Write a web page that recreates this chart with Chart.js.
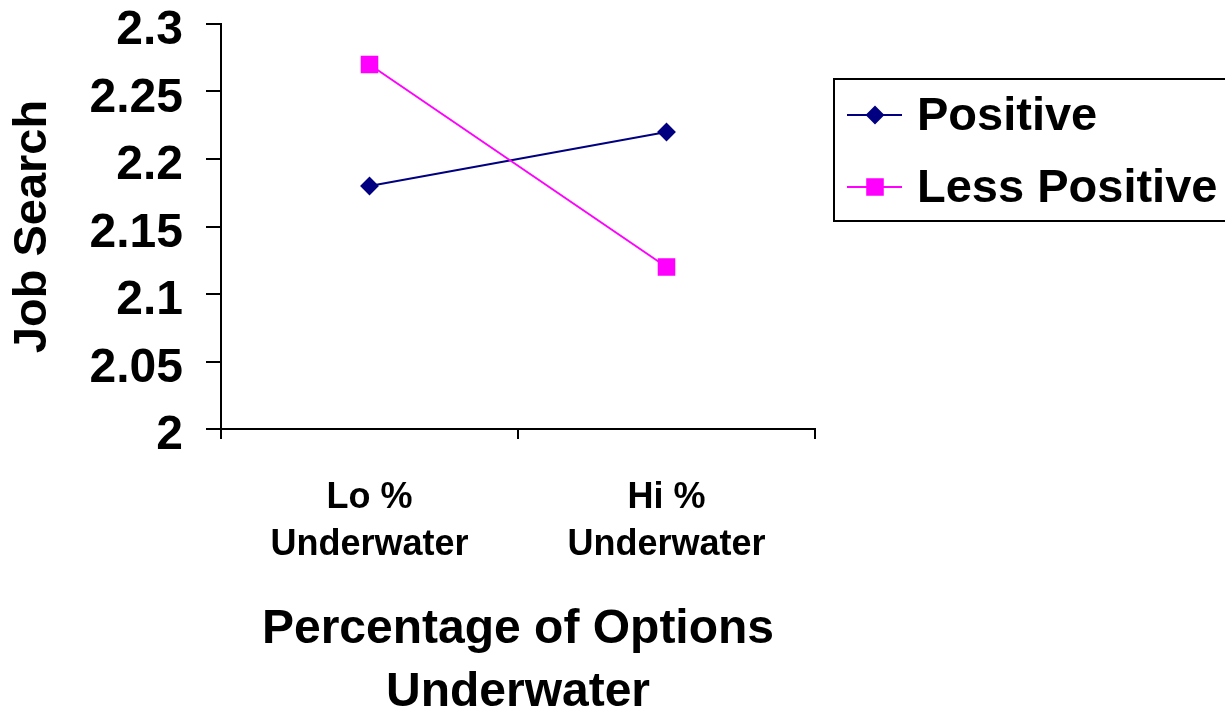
<!DOCTYPE html>
<html>
<head>
<meta charset="utf-8">
<script src="https://cdn.jsdelivr.net/npm/chart.js@4.4.1/dist/chart.umd.min.js"></script>
<style>
  body { margin: 0; background: #fff; }
  #wrap { width: 1225px; height: 708px; }
</style>
</head>
<body>
<div id="wrap"><canvas id="jobChart" width="1225" height="708"></canvas></div>
<script>
const categories = [["Lo %", "Underwater"], ["Hi %", "Underwater"]];
const positive = [2.18, 2.22];
const lessPositive = [2.27, 2.12];
const seriesNames = ["Positive", "Less Positive"];

const FONT = "'Liberation Sans', Arial, sans-serif";

// boxed legend on the right, like the original
const boxLegend = {
  id: "boxLegend",
  afterDraw(chart) {
    const ctx = chart.ctx;
    ctx.save();
    ctx.strokeStyle = "#000";
    ctx.lineWidth = 2;
    ctx.strokeRect(834, 79, 420, 142);
    chart.data.datasets.forEach((ds, i) => {
      const y = 115 + i * 72;
      ctx.strokeStyle = ds.borderColor;
      ctx.lineWidth = 2;
      ctx.beginPath();
      ctx.moveTo(847, y);
      ctx.lineTo(902, y);
      ctx.stroke();
      ctx.fillStyle = ds.pointBackgroundColor;
      ctx.strokeStyle = ds.pointBorderColor;
      Chart.helpers.drawPoint(ctx, { pointStyle: ds.pointStyle, radius: ds.pointRadius, borderWidth: 1 }, 875, y);
      ctx.fillStyle = "#000";
      ctx.font = "bold 47px " + FONT;
      ctx.textBaseline = "middle";
      ctx.fillText(ds.label, 917, y + 2);
    });
    ctx.restore();
  }
};

new Chart(document.getElementById("jobChart"), {
  type: "line",
  data: {
    labels: categories,
    datasets: [
      {
        label: seriesNames[0],
        data: positive,
        borderColor: "#000080",
        backgroundColor: "#000080",
        pointBackgroundColor: "#000080",
        pointBorderColor: "#000080",
        pointStyle: "rectRot",
        pointRadius: 8,
        borderWidth: 2,
        tension: 0,
        order: 1
      },
      {
        label: seriesNames[1],
        data: lessPositive,
        borderColor: "#FF00FF",
        backgroundColor: "#FF00FF",
        pointBackgroundColor: "#FF00FF",
        pointBorderColor: "#FF00FF",
        pointStyle: "rect",
        pointRadius: 11,
        borderWidth: 2,
        tension: 0,
        order: 0
      }
    ]
  },
  options: {
    responsive: false,
    animation: false,
    layout: { padding: { top: 24, right: 410, left: 0, bottom: 0 } },
    plugins: {
      legend: { display: false },
      tooltip: { enabled: false }
    },
    scales: {
      x: {
        offset: true,
        afterFit: (s) => { s.height = 279; },
        border: { display: true, color: "#000", width: 2 },
        grid: { offset: true, drawOnChartArea: false, drawTicks: true, tickLength: 10, color: "#000", lineWidth: 2 },
        ticks: {
          color: "#000",
          padding: 36,
          maxRotation: 0,
          font: { family: FONT, size: 36, weight: "bold", lineHeight: 1.3 }
        },
        title: {
          display: true,
          text: ["Percentage of Options", "Underwater"],
          color: "#000",
          font: { family: FONT, size: 48, weight: "bold", lineHeight: 1.31 },
          padding: { top: 0, bottom: -16 }
        }
      },
      y: {
        min: 2,
        max: 2.3,
        afterFit: (s) => {
          s.width = 221;
          // plot top comes from layout padding, not the label overflow
          s.paddingTop = 0;
          s.paddingBottom = 0;
        },
        border: { display: true, color: "#000", width: 2 },
        grid: { drawOnChartArea: false, drawTicks: true, tickLength: 15, color: "#000", lineWidth: 2 },
        ticks: {
          stepSize: 0.05,
          color: "#000",
          padding: 23,
          labelOffset: 7,
          font: { family: FONT, size: 48, weight: "bold", lineHeight: 1 },
          callback: (v) => String(+v.toFixed(2))
        },
        title: {
          display: true,
          text: "Job Search",
          color: "#000",
          font: { family: FONT, size: 47, weight: "bold", lineHeight: 1.2 },
          padding: { top: 5, bottom: 0 }
        }
      }
    }
  },
  plugins: [boxLegend]
});
</script>
</body>
</html>
